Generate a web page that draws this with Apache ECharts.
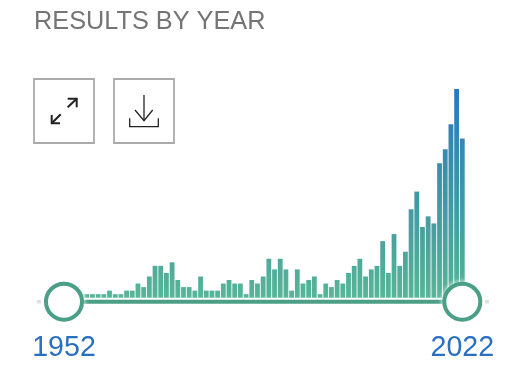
<!DOCTYPE html>
<html>
<head>
<meta charset="utf-8">
<style>html,body{margin:0;padding:0;background:#fff}#c{width:527px;height:374px}</style>
<script src="https://cdn.jsdelivr.net/npm/echarts@6/dist/echarts.min.js"></script>
</head>
<body>
<div id="c"></div>
<script>
const firstYear = 1952;
const lastYear = 2022;
const titleText = 'RESULTS BY YEAR';
const counts = [
  1, 1, 1, 1,
  1, 1, 1, 1, 2, 1, 1, 2, 2, 4, 3, 6, 9, 9, 7, 10, 5, 3, 3, 2, 6, 2, 2, 2, 4, 5, 4, 4,
  1, 5, 4, 6, 11, 8, 11, 8, 2, 8, 4, 5, 6, 1, 4, 3, 5, 4, 7, 9, 11, 6, 8, 9, 16, 7, 18, 9, 13,
  25, 30, 20, 23, 21, 38, 42, 49, 59, 45
];
const years = counts.map((_, i) => String(firstYear + i));
const rangeEnds = [String(firstYear), String(lastYear)];

const chart = echarts.init(document.getElementById('c'), null, {renderer: 'canvas'});
const stroke = {stroke: '#222', fill: null, lineWidth: 2, lineCap: 'butt', lineJoin: 'miter'};
const thin = {stroke: '#222', fill: null, lineWidth: 1.3};
const poly = (points, style) => ({type: 'polyline', shape: {points}, style});
const box = (x) => ({type: 'rect', shape: {x, y: 79, width: 60, height: 64}, style: {fill: '#fff', stroke: '#aaa', lineWidth: 1.8}});

chart.setOption({
  animation: false,
  title: {
    text: titleText, left: 29, top: 5,
    textStyle: {fontFamily: 'Liberation Sans', fontWeight: 'normal', fontSize: 25.3, color: '#757575'}
  },
  grid: [
    {left: 61.15, right: 61.85, top: 89, height: 208.7},
    {left: 61.15, right: 61.85, top: 299.7, height: 4}
  ],
  xAxis: [
    {type: 'category', data: years, gridIndex: 0, show: false},
    {type: 'category', data: years, gridIndex: 1, show: false}
  ],
  yAxis: [
    {type: 'value', gridIndex: 0, min: 0, max: 59, show: false},
    {type: 'value', gridIndex: 1, min: -1, max: 1, show: false}
  ],
  series: [
    {
      type: 'bar', data: counts, barWidth: 4.8, xAxisIndex: 0, yAxisIndex: 0, z: 2,
      itemStyle: {
        color: new echarts.graphic.LinearGradient(0, 89, 0, 298, [
          {offset: 0, color: '#2a78be'},
          {offset: 0.72, color: '#4aa39e'},
          {offset: 1, color: '#56b697'}
        ], true)
      }
    },
    {
      type: 'line', xAxisIndex: 1, yAxisIndex: 1, z: 5,
      data: rangeEnds.map(y => [y, 0]),
      lineStyle: {color: '#4a9f85', width: 4},
      symbol: 'circle', symbolSize: 36, showSymbol: true,
      itemStyle: {color: '#fff', borderColor: '#4a9f85', borderWidth: 4, shadowColor: 'rgba(255,255,255,0.9)', shadowBlur: 5},
      label: {
        show: true, position: 'bottom', distance: 12,
        formatter: p => p.value[0],
        fontFamily: 'Liberation Sans', fontSize: 28.6, color: '#2a6fc0'
      }
    }
  ],
  graphic: [
    box(34), box(114),
    poly([[51.7, 115], [51.7, 123.3], [60, 123.3]], stroke),
    poly([[51.7, 123.3], [60.7, 114.3]], stroke),
    poly([[67.7, 98.7], [76.7, 98.7], [76.7, 107.3]], stroke),
    poly([[76.7, 98.7], [67.7, 107.3]], stroke),
    poly([[144, 95], [144, 120.7]], thin),
    poly([[135, 110], [144, 120.7], [152.7, 110]], thin),
    poly([[129.7, 118.3], [129.7, 126.7], [158.3, 126.7], [158.3, 118.3]], thin),
    {type: 'rect', shape: {x: 37, y: 300, width: 4, height: 3.5}, style: {fill: '#ddd'}},
    {type: 'rect', shape: {x: 485, y: 300, width: 4, height: 3.5}, style: {fill: '#ddd'}}
  ]
});
</script>
</body>
</html>
